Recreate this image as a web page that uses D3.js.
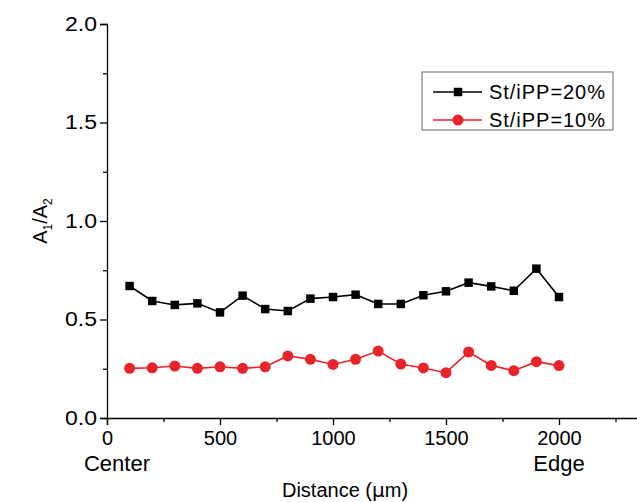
<!DOCTYPE html>
<html>
<head>
<meta charset="utf-8">
<script src="https://cdn.jsdelivr.net/npm/d3@7"></script>
<style>
  body { margin: 0; background: #fff; }
  text { font-family: "Liberation Sans", Arial, sans-serif; fill: #000; }
</style>
</head>
<body>
<div id="svg-container"></div>
<script>
// distance from center (um)
const distances = [100, 200, 300, 400, 500, 600, 700, 800, 900, 1000,
  1100, 1200, 1300, 1400, 1500, 1600, 1700, 1800, 1900, 2000];
// A1/A2 ratios
const st20 = [0.670, 0.594, 0.574, 0.582, 0.536, 0.621, 0.553, 0.543, 0.606, 0.614,
  0.626, 0.579, 0.579, 0.623, 0.643, 0.687, 0.668, 0.646, 0.758, 0.614];
const st10 = [0.252, 0.255, 0.264, 0.252, 0.260, 0.252, 0.260, 0.315, 0.298, 0.272,
  0.298, 0.340, 0.274, 0.254, 0.230, 0.335, 0.267, 0.240, 0.286, 0.266];
const seriesNames = ['St/iPP=20%', 'St/iPP=10%'];
const xTicks = [0, 500, 1000, 1500, 2000];
const yTicks = [0.0, 0.5, 1.0, 1.5, 2.0];

const svgWidth = 637;
const svgHeight = 502;

const svg = d3.select('#svg-container')
.append('svg')
.attr('width', svgWidth)
.attr('height', svgHeight);

// scales, hardcoded to the frame of the original figure
const x = d3.scaleLinear().domain([0, 2400]).range([107, 649.4]);
const y = d3.scaleLinear().domain([0, 2]).range([418, 24]);

// minor ticks first, then major ticks with labels
svg.append('g')
.attr('transform', `translate(0, ${y(0)})`)
.call(d3.axisBottom(x).tickValues(d3.range(250, 2400, 500)).tickSize(4).tickFormat(''))
.call(g => g.select('.domain').remove());

const xAxis = svg.append('g')
.attr('transform', `translate(0, ${y(0)})`)
.call(d3.axisBottom(x).tickValues(xTicks).tickSizeOuter(0).tickSize(7).tickPadding(6).tickFormat(d3.format('d')));
xAxis.selectAll('text').attr('font-size', 20).attr('font-family', null);

svg.append('g')
.attr('transform', `translate(${x(0)}, 0)`)
.call(d3.axisLeft(y).tickValues([0.25, 0.75, 1.25, 1.75]).tickSize(4).tickFormat(''))
.call(g => g.select('.domain').remove());

const yAxis = svg.append('g')
.attr('transform', `translate(${x(0)}, 0)`)
.call(d3.axisLeft(y).tickValues(yTicks).tickSizeOuter(0).tickSize(7).tickPadding(3).tickFormat(d3.format('.1f')));
yAxis.selectAll('text').attr('font-size', 20).attr('font-family', null)
.attr('textLength', 32).attr('lengthAdjust', 'spacingAndGlyphs');

svg.selectAll('.domain, .tick line').attr('stroke', '#000').attr('stroke-width', 1.3);

// extra labels under the x axis
svg.append('text').attr('x', 117).attr('y', 471).attr('text-anchor', 'middle')
.attr('font-size', 22).text('Center');
svg.append('text').attr('x', x(2000)).attr('y', 471).attr('text-anchor', 'middle')
.attr('font-size', 22).text('Edge');

// axis titles
const xTitle = svg.append('text').attr('x', 345).attr('y', 497).attr('text-anchor', 'middle')
.attr('font-size', 20);
xTitle.append('tspan').text('Distance (');
xTitle.append('tspan').attr('font-family', 'DejaVu Sans').text('μ');
xTitle.append('tspan').text('m)');

const yTitle = svg.append('text')
.attr('transform', `translate(47, ${y(1)}) rotate(-90)`)
.attr('text-anchor', 'middle')
.attr('font-size', 20);
yTitle.append('tspan').text('A');
yTitle.append('tspan').attr('font-size', 12).attr('dy', 5).text('1');
yTitle.append('tspan').attr('dy', -5).text('/A');
yTitle.append('tspan').attr('font-size', 12).attr('dy', 5).text('2');

const line = d3.line().x((d, i) => x(distances[i])).y(d => y(d));

const series = [
  { name: seriesNames[0], values: st20, color: '#000', shape: d3.symbolSquare, size: 72 },
  { name: seriesNames[1], values: st10, color: '#e8232a', shape: d3.symbolCircle, size: 95 }
];

series.forEach(s => {
  svg.append('path')
  .attr('d', line(s.values))
  .attr('fill', 'none')
  .attr('stroke', s.color)
  .attr('stroke-width', 1.6);

  svg.append('g')
  .selectAll('path')
  .data(s.values)
  .enter()
  .append('path')
  .attr('transform', (d, i) => `translate(${x(distances[i])}, ${y(d)})`)
  .attr('d', d3.symbol().type(s.shape).size(s.size))
  .attr('fill', s.color);
});

// legend
const legend = svg.append('g').attr('transform', 'translate(422, 72)');
legend.append('rect')
.attr('width', 191).attr('height', 58)
.attr('fill', '#fff').attr('stroke', '#666').attr('stroke-width', 1);

series.forEach((s, i) => {
  const ly = 20 + i * 28;
  legend.append('line')
  .attr('x1', 11).attr('x2', 60).attr('y1', ly).attr('y2', ly)
  .attr('stroke', s.color).attr('stroke-width', 1.6);
  legend.append('path')
  .attr('transform', `translate(36, ${ly})`)
  .attr('d', d3.symbol().type(s.shape).size(s.size))
  .attr('fill', s.color);
  legend.append('text')
  .attr('x', 67).attr('y', ly + 7)
  .attr('font-size', 20)
  .attr('textLength', 116)
  .text(s.name);
});
</script>
</body>
</html>
